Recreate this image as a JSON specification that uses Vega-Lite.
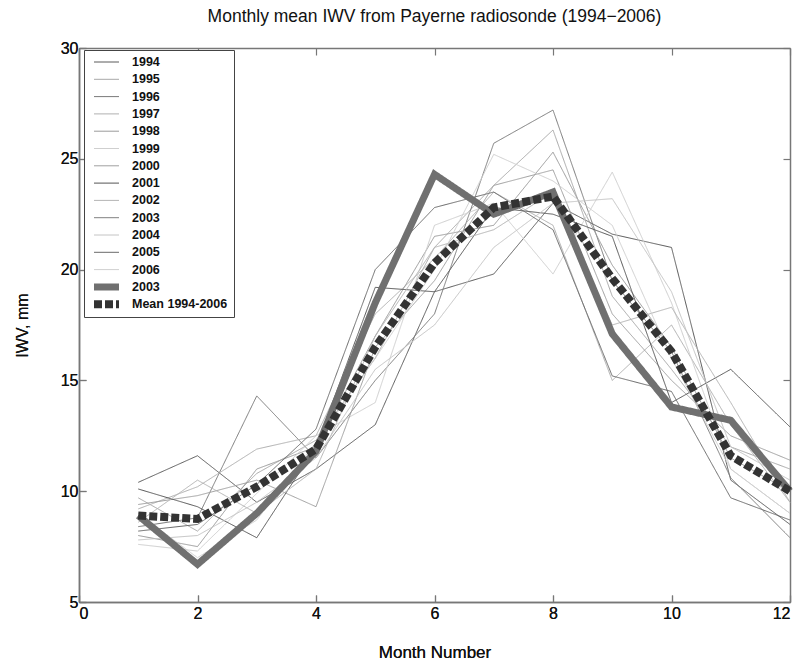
{
  "$schema": "https://vega.github.io/schema/vega-lite/v6.json",
  "autosize": "none",
  "width": 711,
  "height": 554,
  "padding": {"left": 79, "top": 48, "right": 5, "bottom": 60},
  "background": "white",
  "title": {"text": "Monthly mean IWV from Payerne radiosonde (1994\u22122006)", "font": "Liberation Sans", "fontSize": 17.5, "fontWeight": "normal", "color": "#111", "offset": 15, "anchor": "middle"},
  "config": {
    "view": {"stroke": null},
    "axis": {"grid": false, "domainColor": "#777", "tickColor": "#777", "labelFont": "Liberation Sans", "labelFontSize": 16, "labelColor": "#111", "titleFont": "Liberation Sans", "titleFontSize": 16, "titleFontWeight": "normal", "titleColor": "#111", "tickSize": -7, "domainWidth": 1.5, "tickWidth": 1.2}
  },
  "data": {"values": [
    {"month": 1, "1994": 10.4, "1995": 9.7, "1996": 8.4, "1997": 9.2, "1998": 8.0, "1999": 7.6, "2000": 9.4, "2001": 10.1, "2002": 8.6, "2003": 8.9, "2004": 7.8, "2005": 8.2, "2006": 9.0, "2003 highlight": 8.9, "Mean 1994-2006": 8.9},
    {"month": 2, "1994": 11.6, "1995": 8.2, "1996": 8.8, "1997": 10.2, "1998": 7.5, "1999": 7.3, "2000": 9.8, "2001": 9.3, "2002": 10.5, "2003": 6.7, "2004": 8.0, "2005": 8.5, "2006": 7.0, "2003 highlight": 6.7, "Mean 1994-2006": 8.75},
    {"month": 3, "1994": 9.5, "1995": 10.8, "1996": 14.3, "1997": 11.9, "1998": 11.0, "1999": 9.9, "2000": 10.5, "2001": 7.9, "2002": 9.0, "2003": 9.0, "2004": 9.5, "2005": 10.3, "2006": 8.7, "2003 highlight": 9.0, "Mean 1994-2006": 10.2},
    {"month": 4, "1994": 11.0, "1995": 12.3, "1996": 11.5, "1997": 12.5, "1998": 12.0, "1999": 12.5, "2000": 9.3, "2001": 12.0, "2002": 11.0, "2003": 11.8, "2004": 11.5, "2005": 12.8, "2006": 12.2, "2003 highlight": 11.8, "Mean 1994-2006": 11.9},
    {"month": 5, "1994": 13.0, "1995": 16.0, "1996": 15.0, "1997": 18.0, "1998": 17.0, "1999": 14.0, "2000": 16.5, "2001": 19.2, "2002": 17.0, "2003": 18.5, "2004": 15.5, "2005": 20.0, "2006": 16.0, "2003 highlight": 18.5, "Mean 1994-2006": 16.5},
    {"month": 6, "1994": 19.0, "1995": 21.0, "1996": 18.0, "1997": 20.5, "1998": 21.5, "1999": 22.0, "2000": 19.5, "2001": 19.0, "2002": 21.0, "2003": 24.3, "2004": 17.5, "2005": 22.8, "2006": 20.0, "2003 highlight": 24.3, "Mean 1994-2006": 20.3},
    {"month": 7, "1994": 19.8, "1995": 23.8, "1996": 25.7, "1997": 23.5, "1998": 22.0, "1999": 23.0, "2000": 23.8, "2001": 22.8, "2002": 21.8, "2003": 22.5, "2004": 21.0, "2005": 23.5, "2006": 25.2, "2003 highlight": 22.5, "Mean 1994-2006": 22.8},
    {"month": 8, "1994": 23.0, "1995": 26.3, "1996": 27.2, "1997": 22.0, "1998": 25.3, "1999": 19.8, "2000": 24.5, "2001": 22.5, "2002": 23.5, "2003": 23.5, "2004": 23.0, "2005": 21.8, "2006": 24.0, "2003 highlight": 23.5, "Mean 1994-2006": 23.3},
    {"month": 9, "1994": 21.6, "1995": 18.8, "1996": 19.5, "1997": 15.0, "1998": 20.2, "1999": 24.4, "2000": 18.0, "2001": 21.5, "2002": 17.5, "2003": 17.1, "2004": 23.2, "2005": 15.2, "2006": 22.0, "2003 highlight": 17.1, "Mean 1994-2006": 19.6},
    {"month": 10, "1994": 21.0, "1995": 15.5, "1996": 16.3, "1997": 17.5, "1998": 16.5, "1999": 18.5, "2000": 15.0, "2001": 14.0, "2002": 18.3, "2003": 13.8, "2004": 19.0, "2005": 14.5, "2006": 16.0, "2003 highlight": 13.8, "Mean 1994-2006": 16.3},
    {"month": 11, "1994": 10.5, "1995": 12.0, "1996": 10.6, "1997": 13.0, "1998": 11.5, "1999": 11.0, "2000": 12.5, "2001": 15.5, "2002": 14.0, "2003": 13.2, "2004": 12.0, "2005": 9.7, "2006": 11.0, "2003 highlight": 13.2, "Mean 1994-2006": 11.6},
    {"month": 12, "1994": 8.5, "1995": 11.0, "1996": 7.9, "1997": 9.5, "1998": 10.0, "1999": 9.0, "2000": 11.4, "2001": 12.9, "2002": 9.5, "2003": 10.0, "2004": 10.5, "2005": 8.7, "2006": 9.0, "2003 highlight": 10.0, "Mean 1994-2006": 10.0}
  ]},
  "transform": [
    {"fold": ["1994", "1995", "1996", "1997", "1998", "1999", "2000", "2001", "2002", "2003", "2004", "2005", "2006", "2003 highlight", "Mean 1994-2006"], "as": ["series", "iwv"]}
  ],
  "encoding": {
    "x": {"field": "month", "type": "quantitative", "scale": {"domain": [0, 12], "nice": false, "zero": false},
      "axis": {"values": [0, 2, 4, 6, 8, 10, 12], "title": "Month Number", "titleFontSize": 17, "titlePadding": 23, "labelPadding": 10, "orient": "bottom"}},
    "y": {"field": "iwv", "type": "quantitative", "scale": {"domain": [5, 30], "nice": false, "zero": false},
      "axis": {"values": [5, 10, 15, 20, 25, 30], "title": "IWV, mm", "titlePadding": 30, "labelPadding": 8, "orient": "left"}},
    "color": {"field": "series", "type": "ordinal",
      "scale": {"type": "ordinal", "domain": ["1994", "1995", "1996", "1997", "1998", "1999", "2000", "2001", "2002", "2003", "2004", "2005", "2006", "2003 highlight", "Mean 1994-2006"],
        "range": ["#5a5a5a", "#a8a8a8", "#7a7a7a", "#b0b0b0", "#9a9a9a", "#cfcfcf", "#a0a0a0", "#555555", "#b4b4b4", "#808080", "#c4c4c4", "#6a6a6a", "#d0d0d0", "#707070", "#333333"]},
      "legend": {"title": null, "orient": "none", "legendX": 5, "legendY": 2, "symbolType": "stroke", "symbolSize": 625, "labelFont": "Liberation Sans", "labelFontSize": 12.5, "labelFontWeight": "bold", "labelColor": "#111", "rowPadding": 4.3, "padding": 6, "strokeColor": "#444", "fillColor": "white", "clipHeight": 12, "labelOffset": 9,
        "labelExpr": "datum.label == '2003 highlight' ? '2003' : datum.label"}},
    "strokeWidth": {"field": "series", "type": "ordinal",
      "scale": {"type": "ordinal", "domain": ["1994", "1995", "1996", "1997", "1998", "1999", "2000", "2001", "2002", "2003", "2004", "2005", "2006", "2003 highlight", "Mean 1994-2006"],
        "range": [1, 1, 1, 1, 1, 1, 1, 1, 1, 1, 1, 1, 1, 7, 8]}},
    "strokeDash": {"field": "series", "type": "ordinal",
      "scale": {"type": "ordinal", "domain": ["1994", "1995", "1996", "1997", "1998", "1999", "2000", "2001", "2002", "2003", "2004", "2005", "2006", "2003 highlight", "Mean 1994-2006"],
        "range": [[1, 0], [1, 0], [1, 0], [1, 0], [1, 0], [1, 0], [1, 0], [1, 0], [1, 0], [1, 0], [1, 0], [1, 0], [1, 0], [1, 0], [8, 3]]}}
  },
  "layer": [
    {"transform": [{"filter": "datum.series != '2003 highlight' && datum.series != 'Mean 1994-2006'"}],
     "mark": {"type": "line", "strokeCap": "butt", "strokeJoin": "miter"}},
    {"transform": [{"filter": "datum.series == '2003 highlight'"}],
     "mark": {"type": "line", "strokeCap": "butt", "strokeJoin": "miter"},
     "encoding": {
       "x": {"field": "month", "type": "quantitative", "axis": {"orient": "top", "values": [0, 2, 4, 6, 8, 10, 12], "labels": false, "title": null}},
       "y": {"field": "iwv", "type": "quantitative", "axis": {"orient": "right", "values": [5, 10, 15, 20, 25, 30], "labels": false, "title": null}}
     }},
    {"transform": [{"filter": "datum.series == 'Mean 1994-2006'"}],
     "mark": {"type": "line", "strokeCap": "butt", "strokeJoin": "miter"}}
  ],
  "resolve": {"axis": {"x": "independent", "y": "independent"}}
}
